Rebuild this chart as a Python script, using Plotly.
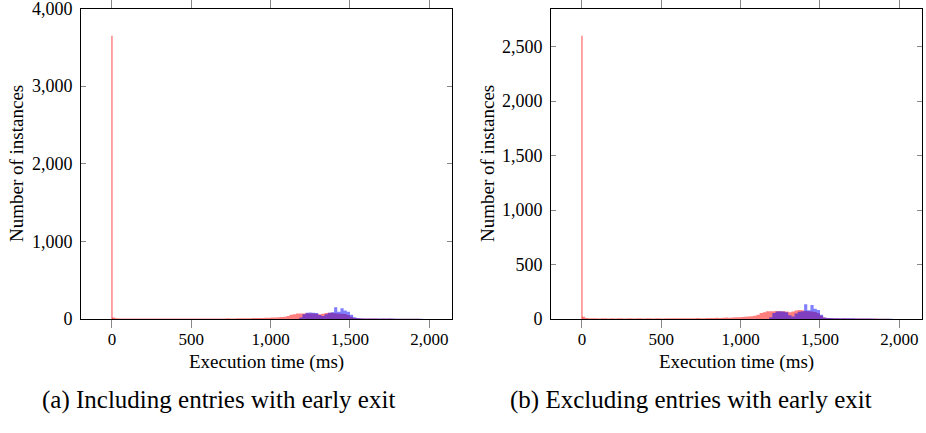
import plotly.graph_objects as go

# ---------------- data ----------------
bin_width_ms = 20
x_tick_values = [0, 500, 1000, 1500, 2000]
y_tick_values_a = [0, 1000, 2000, 3000, 4000]
y_tick_values_b = [0, 500, 1000, 1500, 2000, 2500]

# spike at 0 ms (early exits)
red_spike_x = [0]
red_spike_a = [3650]
red_spike_b = [2600]

# red series, 20 ms bins starting at 0 ms
red_start_ms = 0
red_counts = [
    20, 10, 8, 6, 7, 5, 6, 8, 5, 6,
    5, 7, 6, 5, 8, 6, 5, 7, 6, 5,
    6, 8, 5, 6, 7, 5, 6, 8, 7, 6,
    7, 6, 8, 7, 6, 8, 9, 7, 8, 9,
    9, 10, 11, 10, 12, 13, 12, 14, 15, 16,
    18, 20, 22, 25, 30, 40, 55, 62, 70, 72,
    72, 74, 70, 72, 68, 62, 68, 78, 82, 80,
    74, 70, 68, 64, 52, 30, 14, 9, 7, 6,
    6, 5, 6, 5, 4, 5, 4, 5, 4, 4,
    4, 3, 4, 3, 3, 2, 2, 1, 1, 0,
]

# blue series, 20 ms bins starting at 1180 ms
blue_start_ms = 1180
blue_counts_a = [
    20, 62, 80, 84, 82, 78, 50, 38, 62, 80,
    86, 150, 95, 138, 110, 92, 55, 22, 12,
    9, 8, 8, 7, 7, 6, 6, 6, 5, 5, 5, 4, 4, 4, 3, 3, 3, 2, 2, 2, 1, 0,
]
blue_counts_b = [
    15, 55, 68, 70, 68, 62, 35, 22, 50, 66,
    72, 135, 80, 128, 95, 83, 40, 14, 10,
    9, 8, 8, 7, 7, 6, 6, 6, 5, 5, 5, 4, 4, 4, 3, 3, 3, 2, 2, 2, 1, 0,
]

caption_a = "(a) Including entries with early exit"
caption_b = "(b) Excluding entries with early exit"
x_title = "Execution time (ms)"
y_title = "Number of instances"

# ---------------- styling ----------------
W, H = 926, 433
FONT = "'Liberation Serif', 'Times New Roman', serif"
RED = "rgba(255,0,0,0.5)"
BLUE = "rgba(0,0,255,0.5)"

def edges(start, counts):
    return [start + bin_width_ms * i for i in range(len(counts))]

fig = go.Figure()

panels = [
    ("x", "y", red_spike_a, blue_counts_a),
    ("x2", "y2", red_spike_b, blue_counts_b),
]
for xa, ya, spike, blue in panels:
    fig.add_trace(go.Scatter(
        x=edges(red_start_ms, red_counts), y=red_counts, xaxis=xa, yaxis=ya,
        mode="lines", line=dict(width=0, shape="hv", color=RED),
        fill="tozeroy", fillcolor=RED, showlegend=False, hoverinfo="skip"))
    fig.add_trace(go.Bar(
        x=red_spike_x, y=spike, xaxis=xa, yaxis=ya, width=9,
        marker=dict(color=RED, line=dict(width=0)), showlegend=False))
    fig.add_trace(go.Scatter(
        x=edges(blue_start_ms, blue), y=blue, xaxis=xa, yaxis=ya,
        mode="lines", line=dict(width=0, shape="hv", color=BLUE),
        fill="tozeroy", fillcolor=BLUE, showlegend=False, hoverinfo="skip"))

def px(v):
    return v / W

def py(v):
    return (H - v) / H

y_bot, y_top = 319, 8.5
xdom_a = [px(81), px(452)]
xdom_b = [px(551), px(922)]
ydom = [py(y_bot), py(y_top)]

common_x = dict(
    range=[-195, 2143], tickvals=x_tick_values, tickformat=",d",
    showline=True, linecolor="black", linewidth=1, mirror="ticks",
    ticks="outside", ticklen=8, tickcolor="#888", tickwidth=1,
    showgrid=False, zeroline=False, automargin=False,
    ticklabelstandoff=-3, ticklabeloverflow="allow",
    tickfont=dict(family=FONT, size=17, color="black"),
)
common_y = dict(
    tickformat=",d", showline=True, linecolor="black", linewidth=1,
    mirror="ticks", ticks="inside", ticklen=5, tickcolor="#888", tickwidth=1,
    showgrid=False, zeroline=False, ticklabelstandoff=4, automargin=False,
    ticklabeloverflow="allow",
    tickfont=dict(family=FONT, size=18, color="black"),
)

fig.update_layout(
    width=W, height=H, margin=dict(l=0, r=0, t=0, b=0, pad=0),
    autosize=False,
    paper_bgcolor="white", plot_bgcolor="white",
    barmode="overlay", separators=".,",
    xaxis=dict(domain=xdom_a, anchor="y", **common_x),
    yaxis=dict(domain=ydom, anchor="x", range=[0, 4000],
               tickvals=y_tick_values_a, **common_y),
    xaxis2=dict(domain=xdom_b, anchor="y2", **common_x),
    yaxis2=dict(domain=ydom, anchor="x2", range=[0, 2850],
                tickvals=y_tick_values_b, **common_y),
)

ann_font = dict(family=FONT, size=19, color="black")
cap_font = dict(family=FONT, size=25, color="black")
annotations = [
    dict(x=px(266.5), y=py(362), text=x_title, font=ann_font),
    dict(x=px(736.5), y=py(362), text=x_title, font=ann_font),
    dict(x=px(16), y=py(164), text=y_title, font=ann_font, textangle=-90),
    dict(x=px(487), y=py(164), text=y_title, font=ann_font, textangle=-90),
    dict(x=px(218), y=py(400), text=caption_a, font=cap_font),
    dict(x=px(691), y=py(400), text=caption_b, font=cap_font),
]
for a in annotations:
    a.update(xref="paper", yref="paper", showarrow=False,
             xanchor="center", yanchor="middle")
fig.update_layout(annotations=annotations)

fig.write_html(
    "out.html",
    config={"responsive": False, "displayModeBar": False},
    post_script="document.body.style.margin='0';document.body.style.padding='0';",
)
